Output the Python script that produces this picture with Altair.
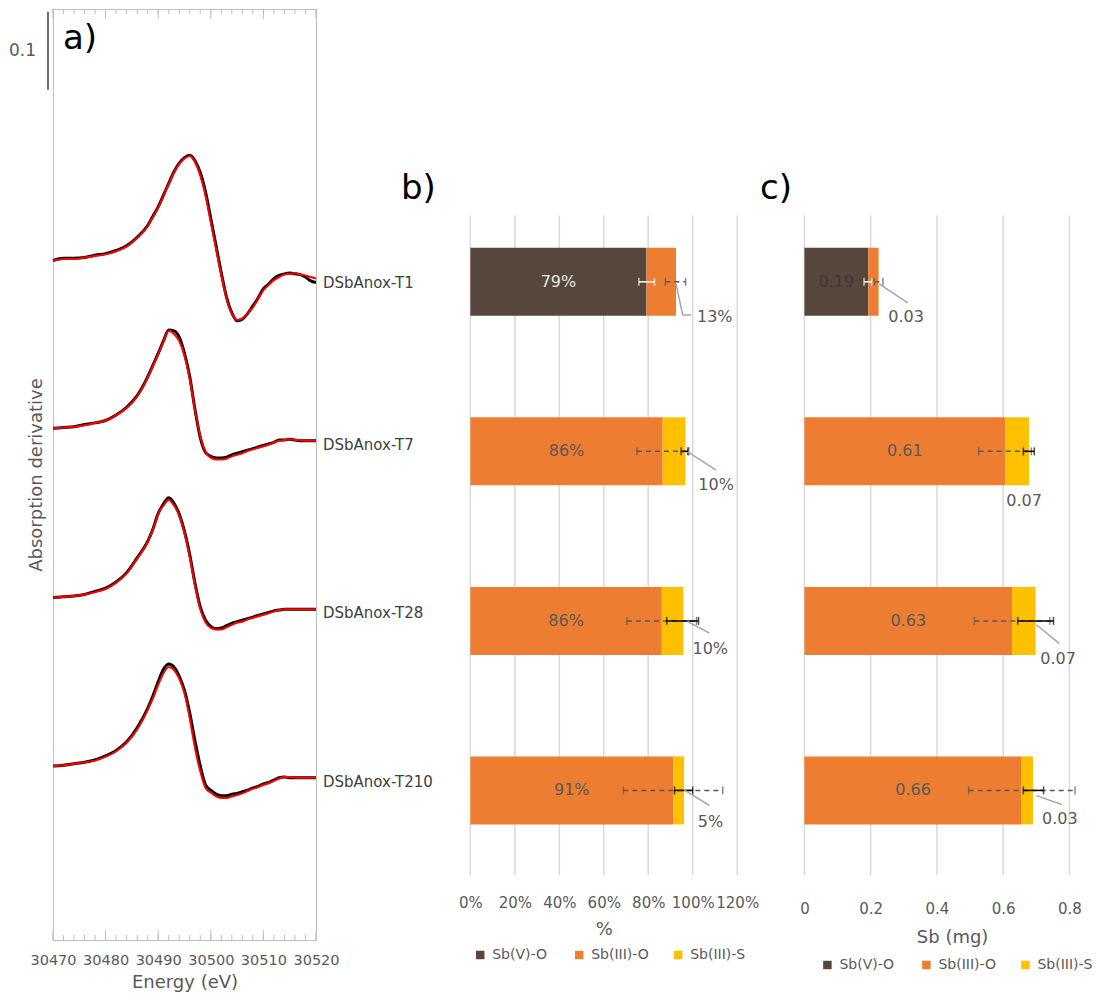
import altair as alt
import pandas as pd

FONT = "DejaVu Sans"
GREY = "#595959"
DARKTXT = "#404040"
FRAME = "#bfbfbf"
GRIDC = "#d9d9d9"
LEADER = "#a6a6a6"

# ---------------- panel a : derivative spectra ----------------
samples = ["DSbAnox-T1", "DSbAnox-T7", "DSbAnox-T28", "DSbAnox-T210"]

energy = [30470, 30472, 30474, 30476, 30478, 30480, 30482, 30484, 30486, 30488,
          30489, 30490, 30491, 30492, 30493, 30494, 30495, 30496, 30497, 30498,
          30499, 30500, 30501, 30502, 30503, 30504, 30505, 30506, 30507, 30508,
          30509, 30510, 30511, 30512, 30513, 30514, 30515, 30516, 30517, 30518,
          30519, 30520]

fit_T1 = [0.000, 0.002, 0.002, 0.004, 0.006, 0.008, 0.012, 0.018, 0.029, 0.044,
          0.056, 0.068, 0.083, 0.098, 0.113, 0.124, 0.131, 0.134, 0.126, 0.109,
          0.083, 0.049, 0.015, -0.019, -0.049, -0.068, -0.076, -0.074, -0.068, -0.060,
          -0.049, -0.038, -0.031, -0.025, -0.021, -0.018, -0.017, -0.016, -0.018, -0.019,
          -0.021, -0.023]
data_T1 = [0.000, 0.003, 0.003, 0.004, 0.007, 0.009, 0.013, 0.019, 0.030, 0.045,
           0.057, 0.069, 0.084, 0.099, 0.114, 0.125, 0.132, 0.135, 0.128, 0.113,
           0.088, 0.054, 0.019, -0.016, -0.047, -0.067, -0.077, -0.075, -0.068, -0.058,
           -0.048, -0.036, -0.030, -0.023, -0.019, -0.017, -0.016, -0.017, -0.018, -0.021,
           -0.026, -0.028]

fit_T7 = [0.000, 0.001, 0.002, 0.004, 0.007, 0.010, 0.017, 0.026, 0.041, 0.065,
          0.080, 0.095, 0.111, 0.125, 0.121, 0.112, 0.093, 0.063, 0.023, -0.010,
          -0.030, -0.038, -0.040, -0.040, -0.039, -0.036, -0.034, -0.032, -0.029, -0.027,
          -0.025, -0.023, -0.021, -0.018, -0.016, -0.015, -0.014, -0.015, -0.015, -0.016,
          -0.016, -0.016]
data_T7 = [0.000, 0.001, 0.002, 0.005, 0.007, 0.010, 0.017, 0.027, 0.042, 0.066,
           0.081, 0.096, 0.112, 0.126, 0.125, 0.117, 0.096, 0.066, 0.024, -0.012,
           -0.031, -0.036, -0.038, -0.038, -0.037, -0.034, -0.032, -0.030, -0.028, -0.026,
           -0.024, -0.022, -0.020, -0.018, -0.015, -0.015, -0.014, -0.015, -0.016, -0.016,
           -0.016, -0.016]

fit_T28 = [0.000, 0.001, 0.002, 0.004, 0.007, 0.011, 0.019, 0.031, 0.050, 0.071,
           0.087, 0.107, 0.118, 0.125, 0.118, 0.105, 0.082, 0.052, 0.015, -0.015,
           -0.032, -0.039, -0.041, -0.041, -0.038, -0.035, -0.032, -0.031, -0.028, -0.026,
           -0.024, -0.022, -0.020, -0.018, -0.016, -0.015, -0.015, -0.015, -0.015, -0.015,
           -0.015, -0.015]
data_T28 = [0.000, 0.001, 0.002, 0.004, 0.008, 0.012, 0.020, 0.032, 0.051, 0.072,
            0.088, 0.108, 0.120, 0.128, 0.121, 0.107, 0.085, 0.055, 0.018, -0.012,
            -0.029, -0.037, -0.040, -0.039, -0.036, -0.033, -0.031, -0.029, -0.027, -0.025,
            -0.023, -0.021, -0.019, -0.017, -0.016, -0.015, -0.015, -0.015, -0.015, -0.015,
            -0.015, -0.015]

fit_T210 = [0.000, 0.001, 0.003, 0.005, 0.007, 0.012, 0.019, 0.030, 0.047, 0.072,
            0.087, 0.104, 0.119, 0.127, 0.123, 0.112, 0.093, 0.061, 0.023, -0.007,
            -0.028, -0.034, -0.039, -0.041, -0.041, -0.039, -0.037, -0.035, -0.032, -0.029,
            -0.027, -0.024, -0.022, -0.019, -0.016, -0.014, -0.014, -0.015, -0.015, -0.015,
            -0.015, -0.015]
data_T210 = [0.000, 0.001, 0.003, 0.005, 0.008, 0.013, 0.020, 0.031, 0.049, 0.074,
             0.090, 0.108, 0.124, 0.131, 0.127, 0.115, 0.097, 0.068, 0.032, 0.000,
             -0.024, -0.031, -0.036, -0.038, -0.038, -0.036, -0.035, -0.033, -0.031, -0.028,
             -0.026, -0.023, -0.021, -0.018, -0.015, -0.014, -0.015, -0.015, -0.015, -0.015,
             -0.015, -0.015]

offsets = [0.871, 0.656, 0.439, 0.223]
scale_bar = [1.09, 1.19]
energy_major = [30470, 30480, 30490, 30500, 30510, 30520]
energy_minor = list(range(30470, 30521, 2))

# ---------------- panels b and c ----------------
components = ["Sb(V)-O", "Sb(III)-O", "Sb(III)-S"]
comp_colors = ["#56463b", "#ed7d31", "#ffc000"]

pct_V_O = [79.2, 0, 0, 0]
pct_III_O = [13.3, 86.5, 86.1, 91.2]
pct_III_S = [0, 10.2, 9.7, 4.9]

mg_V_O = [0.193, 0, 0, 0]
mg_III_O = [0.031, 0.606, 0.627, 0.656]
mg_III_S = [0, 0.072, 0.071, 0.034]

pct_ticks = [0, 20, 40, 60, 80, 100, 120]
mg_ticks = [0, 0.2, 0.4, 0.6, 0.8]

# error bars (low, high) per sample row
pct_err_white = {"row": [0], "lo": [75.8], "hi": [82.8]}
pct_err_dash = {"row": [0, 1, 2, 3], "lo": [87.7, 74.9, 70.4, 68.8], "hi": [96.8, 98.2, 101.7, 113.5]}
pct_err_black = {"row": [1, 2, 3], "lo": [94.8, 88.3, 91.8], "hi": [97.8, 102.6, 100.0]}

mg_err_white = {"row": [0], "lo": [0.180], "hi": [0.203]}
mg_err_dash = {"row": [0, 1, 2, 3], "lo": [0.211, 0.526, 0.513, 0.496], "hi": [0.237, 0.685, 0.741, 0.817]}
mg_err_black = {"row": [1, 2, 3], "lo": [0.661, 0.644, 0.661], "hi": [0.694, 0.752, 0.722]}

# leader lines of the outside data labels (x in data units, dy in row units)
pct_leaders = {"row": [0, 0, 1, 2, 3], "x1": [92.5, 95.5, 97.8, 97.8, 96.3],
               "dy1": [0.012, 0.196, 0.003, 0.004, -0.002],
               "x2": [95.5, 99.3, 110.5, 107.5, 107.5], "dy2": [0.196, 0.196, 0.110, 0.072, 0.089]}
mg_leaders = {"row": [0, 2, 3], "x1": [0.226, 0.700, 0.700], "dy1": [0.012, 0.023, 0.031],
              "x2": [0.312, 0.770, 0.777], "dy2": [0.124, 0.134, 0.083]}
pct_out_pos = {"x": [109.9, 110.5, 107.9, 108.0], "dy": [0.21, 0.197, 0.163, 0.187]}
mg_out_pos = {"x": [0.307, 0.663, 0.766, 0.771], "dy": [0.210, 0.294, 0.223, 0.171]}

# ---------------- build panel a ----------------
rows = []
fits = [fit_T1, fit_T7, fit_T28, fit_T210]
datas = [data_T1, data_T7, data_T28, data_T210]
for s, off, fv, dv in zip(samples, offsets, fits, datas):
    for e, f, d in zip(energy, fv, dv):
        rows.append({"sample": s, "E": e, "fit": f + off, "data": d + off})
spec_df = pd.DataFrame(rows)
lab_a = pd.DataFrame({"sample": samples, "E": [energy[-1]] * 4,
                      "y": [fv[-1] + off for fv, off in zip(fits, offsets)]})

W_A, H_A = 263, 931
xa = alt.Scale(domain=[energy[0], energy[-1]], nice=False, zero=False)
ya = alt.Scale(domain=[0, H_A / 780], nice=False, zero=False)
base_a = alt.Chart(spec_df)


def tick_rules(values, y0, y1):
    return alt.Chart(pd.DataFrame({"E": values})).mark_rule(color=FRAME, strokeWidth=1).encode(
        x=alt.X("E:Q", scale=xa, axis=None), y=alt.value(y0), y2=alt.value(y1))


black = base_a.mark_line(color="#000000", strokeWidth=3, interpolate="monotone").encode(
    x=alt.X("E:Q", scale=xa, axis=alt.Axis(orient="bottom", values=energy_major, ticks=False, tickSize=0,
                                            domain=False, grid=False, labelOverlap=False, labelFlush=False,
                                            labelFontSize=14.5, labelColor=GREY, labelPadding=13,
                                            format="d", title="Energy (eV)", titleFontSize=18,
                                            titleColor=GREY, titleFontWeight="normal", titlePadding=7)),
    y=alt.Y("data:Q", scale=ya, axis=alt.Axis(title="Absorption derivative", labels=False, ticks=False,
                                              domain=False, grid=False, titleFontSize=18, titleColor=GREY,
                                              titleFontWeight="normal", titlePadding=8)),
    detail="sample:N")
red = base_a.mark_line(color="#ff0000", strokeWidth=2, interpolate="monotone").encode(
    x=alt.X("E:Q", scale=xa, axis=None),
    y=alt.Y("fit:Q", scale=ya, axis=None),
    detail="sample:N")
labels_a = alt.Chart(lab_a).mark_text(align="left", baseline="middle", dx=7, dy=4,
                                      fontSize=15, color=DARKTXT).encode(
    x=alt.X("E:Q", scale=xa, axis=None), y=alt.Y("y:Q", scale=ya, axis=None), text="sample:N")
sb_df = pd.DataFrame({"y0": [scale_bar[0]], "y1": [scale_bar[1]],
                      "ym": [(scale_bar[0] + scale_bar[1]) / 2],
                      "t": [f"{scale_bar[1] - scale_bar[0]:.1f}"]})
sbar = alt.Chart(sb_df).mark_rule(color=DARKTXT, strokeWidth=1.5).encode(
    x=alt.value(-5), y=alt.Y("y0:Q", scale=ya, axis=None), y2="y1:Q")
sbtxt = alt.Chart(sb_df).mark_text(align="right", baseline="middle", fontSize=17, color=GREY).encode(
    x=alt.value(-17), y=alt.Y("ym:Q", scale=ya, axis=None), text="t:N")
tag_a = alt.Chart(pd.DataFrame({"t": ["a)"]})).mark_text(
    align="left", baseline="middle", fontSize=34, color="#000000").encode(
    text="t:N", x=alt.value(10), y=alt.value(30))

panel_a = alt.layer(
    tick_rules(energy_minor, 0, 5), tick_rules(energy_major, 0, 10),
    tick_rules(energy_minor, H_A - 5, H_A), tick_rules(energy_major, H_A - 10, H_A),
    black, red, labels_a, sbar, sbtxt, tag_a
).resolve_axis(x="independent", y="independent").properties(
    width=W_A, height=H_A, view=alt.ViewBackground(stroke=FRAME, strokeWidth=1))

# ---------------- panels b / c ----------------
H_BC = 871
yr = alt.Scale(domain=[-1.580, 3.499], reverse=True, nice=False, zero=False)
GRID_TOP, GRID_BOTTOM = -0.391, 3.499


def stack(vals):
    out = []
    for i, s in enumerate(samples):
        start = 0.0
        for c, v in zip(components, vals):
            if v[i] > 0:
                out.append({"sample": s, "row": i, "comp": c, "start": start,
                            "end": start + v[i], "mid": start + v[i] / 2, "value": v[i]})
            start += v[i]
    return pd.DataFrame(out)


def bar_panel(vals, fmt, xscale, axis, ticks, err_white, err_dash, err_black, leaders, out_pos,
              inside_dark_color, legend_xy, tag, tag_x, width):
    bars = stack(vals)
    idx_in = bars.groupby("row")["value"].idxmax()
    inside = bars.loc[idx_in].copy()
    inside["label"] = inside["value"].map(fmt)
    inside["tc"] = [inside_dark_color if c == components[0] else GREY for c in inside["comp"]]
    outside = bars.drop(index=idx_in).sort_values("row").copy()
    outside["label"] = outside["value"].map(fmt)
    outside["x"] = [out_pos["x"][r] for r in outside["row"]]
    outside["y"] = [r + out_pos["dy"][r] for r in outside["row"]]

    grid_df = pd.DataFrame({"v": ticks, "top": GRID_TOP, "bottom": GRID_BOTTOM})
    grid = alt.Chart(grid_df).mark_rule(color=GRIDC, strokeWidth=1.5).encode(
        x=alt.X("v:Q", scale=xscale, axis=axis),
        y=alt.Y("top:Q", scale=yr, axis=None), y2="bottom:Q")
    bar = alt.Chart(bars).mark_bar(orient="horizontal", size=68).encode(
        x=alt.X("start:Q", scale=xscale, axis=None), x2="end:Q",
        y=alt.Y("row:Q", scale=yr, axis=None),
        color=alt.Color("comp:N", scale=alt.Scale(domain=components, range=comp_colors),
                        legend=alt.Legend(title=None, orient="none", legendX=legend_xy[0],
                                          legendY=legend_xy[1], direction="horizontal", columns=3,
                                          gridAlign="all", symbolType="square", symbolSize=72,
                                          symbolStrokeWidth=0, labelFontSize=14, labelColor=GREY,
                                          labelOffset=5, columnPadding=22, padding=0)))
    in_txt = alt.Chart(inside).mark_text(fontSize=16, baseline="middle").encode(
        x=alt.X("mid:Q", scale=xscale, axis=None), y=alt.Y("row:Q", scale=yr, axis=None),
        text="label:N", fill=alt.Fill("tc:N", scale=None))

    def err_layers(d, color, dash):
        df = pd.DataFrame(d)
        caps = df.melt(id_vars="row", value_vars=["lo", "hi"], value_name="x")
        kw = {"strokeDash": [5, 4]} if dash else {}
        line = alt.Chart(df).mark_rule(color=color, strokeWidth=1.5, **kw).encode(
            x=alt.X("lo:Q", scale=xscale, axis=None), x2="hi:Q",
            y=alt.Y("row:Q", scale=yr, axis=None))
        cap = alt.Chart(caps).mark_tick(orient="vertical", color=color, size=8, thickness=1.5).encode(
            x=alt.X("x:Q", scale=xscale, axis=None), y=alt.Y("row:Q", scale=yr, axis=None))
        return [line, cap]

    ld = pd.DataFrame(leaders)
    ld["y1"] = ld["row"] + ld["dy1"]
    ld["y2"] = ld["row"] + ld["dy2"]
    lead = alt.Chart(ld).mark_rule(color=LEADER, strokeWidth=1.5).encode(
        x=alt.X("x1:Q", scale=xscale, axis=None), x2="x2:Q",
        y=alt.Y("y1:Q", scale=yr, axis=None), y2="y2:Q")
    out_txt = alt.Chart(outside).mark_text(fontSize=16, baseline="middle", color=GREY).encode(
        x=alt.X("x:Q", scale=xscale, axis=None), y=alt.Y("y:Q", scale=yr, axis=None), text="label:N")
    tag_c = alt.Chart(pd.DataFrame({"t": [tag]})).mark_text(
        align="left", baseline="middle", fontSize=34, color="#000000").encode(
        text="t:N", x=alt.value(tag_x), y=alt.value(180))

    layers = [grid, bar, in_txt] + err_layers(err_dash, GREY, True) + err_layers(err_black, "#000000", False) \
        + err_layers(err_white, "#ffffff", False) + [lead, out_txt, tag_c]
    return alt.layer(*layers).resolve_axis(x="independent", y="independent").properties(
        width=width, height=H_BC)


W_B, W_C = 354, 265
xb = alt.Scale(domain=[-39.2, 120], nice=False, zero=False)
xc = alt.Scale(domain=[0, 0.8], nice=False, zero=False)

axis_b = alt.Axis(orient="bottom", values=pct_ticks, labelExpr="datum.value + '%'",
                  domain=False, ticks=False, tickSize=0, grid=False, labelOverlap=False, labelFlush=False,
                  labelPadding=15, labelFontSize=15, labelColor=GREY, title="%", titleFontSize=18,
                  titleColor=GREY, titleFontWeight="normal", titlePadding=10, titleX=220.5)
axis_c = alt.Axis(orient="bottom", values=mg_ticks, format="~g",
                  domain=False, ticks=False, tickSize=0, grid=False, labelOverlap=False, labelFlush=False,
                  labelPadding=21, labelFontSize=15, labelColor=GREY, title="Sb (mg)", titleFontSize=18,
                  titleColor=GREY, titleFontWeight="normal", titlePadding=12, titleX=147.7)

panel_b = bar_panel([pct_V_O, pct_III_O, pct_III_S], lambda v: f"{v:.0f}%", xb, axis_b, pct_ticks,
                    pct_err_white, pct_err_dash, pct_err_black, pct_leaders, pct_out_pos,
                    "#e6e6e6", (90, 939), "b)", 17.8, W_B)
panel_c = bar_panel([mg_V_O, mg_III_O, mg_III_S], lambda v: f"{v:.2f}", xc, axis_c, mg_ticks,
                    mg_err_white, mg_err_dash, mg_err_black, mg_leaders, mg_out_pos,
                    "#3a3a3a", (16, 949), "c)", -44.3, W_C)

chart = alt.hconcat(panel_a, panel_b, panel_c, spacing=67.2, bounds="flush").resolve_scale(
    x="independent", y="independent", color="independent"
).resolve_legend(color="independent").properties(
    padding={"left": 0, "top": 0, "right": 0, "bottom": 0}
).configure(font=FONT).configure_view(stroke=None)

chart.save("out.html", embed_options={"renderer": "svg", "actions": False})
